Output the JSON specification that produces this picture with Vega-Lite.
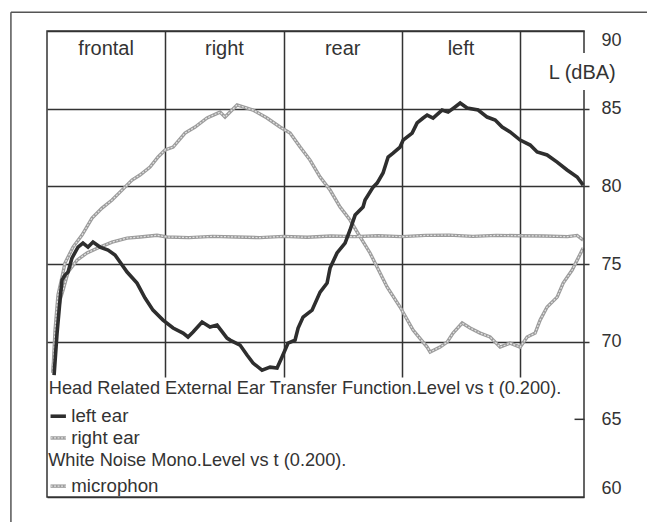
{
  "$schema": "https://vega.github.io/schema/vega-lite/v6.json",
  "width": 537,
  "height": 466,
  "autosize": {"type": "none"},
  "padding": {"left": 47, "top": 31, "right": 63, "bottom": 25},
  "background": "#ffffff",
  "config": {
    "view": {"stroke": null},
    "font": "Liberation Sans",
    "text": {"font": "Liberation Sans", "fontSize": 18.5, "color": "#333333"}
  },
  "datasets": {
    "curves": [
      {"s": "left ear", "t": 0.06, "L": 67.85}, {"s": "left ear", "t": 0.085, "L": 70.55}, {"s": "left ear", "t": 0.11, "L": 72.68},
      {"s": "left ear", "t": 0.127, "L": 73.97}, {"s": "left ear", "t": 0.152, "L": 74.29}, {"s": "left ear", "t": 0.178, "L": 74.48},
      {"s": "left ear", "t": 0.211, "L": 75.38}, {"s": "left ear", "t": 0.262, "L": 76.09}, {"s": "left ear", "t": 0.304, "L": 76.35},
      {"s": "left ear", "t": 0.347, "L": 76.09}, {"s": "left ear", "t": 0.389, "L": 76.41}, {"s": "left ear", "t": 0.448, "L": 76.09},
      {"s": "left ear", "t": 0.516, "L": 75.9}, {"s": "left ear", "t": 0.575, "L": 75.58}, {"s": "left ear", "t": 0.617, "L": 75.13},
      {"s": "left ear", "t": 0.677, "L": 74.48}, {"s": "left ear", "t": 0.761, "L": 73.77}, {"s": "left ear", "t": 0.829, "L": 72.81},
      {"s": "left ear", "t": 0.896, "L": 72.03}, {"s": "left ear", "t": 0.981, "L": 71.39}, {"s": "left ear", "t": 1.066, "L": 70.88},
      {"s": "left ear", "t": 1.15, "L": 70.55}, {"s": "left ear", "t": 1.192, "L": 70.3}, {"s": "left ear", "t": 1.235, "L": 70.62},
      {"s": "left ear", "t": 1.311, "L": 71.26}, {"s": "left ear", "t": 1.378, "L": 70.94}, {"s": "left ear", "t": 1.438, "L": 71.07},
      {"s": "left ear", "t": 1.522, "L": 70.23}, {"s": "left ear", "t": 1.548, "L": 70.1}, {"s": "left ear", "t": 1.632, "L": 69.78},
      {"s": "left ear", "t": 1.691, "L": 69.14}, {"s": "left ear", "t": 1.742, "L": 68.62}, {"s": "left ear", "t": 1.818, "L": 68.17},
      {"s": "left ear", "t": 1.886, "L": 68.36}, {"s": "left ear", "t": 1.945, "L": 68.3}, {"s": "left ear", "t": 1.987, "L": 69.01},
      {"s": "left ear", "t": 2.038, "L": 69.91}, {"s": "left ear", "t": 2.097, "L": 70.1}, {"s": "left ear", "t": 2.123, "L": 70.88},
      {"s": "left ear", "t": 2.165, "L": 71.58}, {"s": "left ear", "t": 2.241, "L": 72.03}, {"s": "left ear", "t": 2.309, "L": 73.19},
      {"s": "left ear", "t": 2.368, "L": 73.77}, {"s": "left ear", "t": 2.393, "L": 74.74}, {"s": "left ear", "t": 2.452, "L": 75.71},
      {"s": "left ear", "t": 2.52, "L": 76.35}, {"s": "left ear", "t": 2.562, "L": 77.19}, {"s": "left ear", "t": 2.605, "L": 78.15},
      {"s": "left ear", "t": 2.672, "L": 78.67}, {"s": "left ear", "t": 2.689, "L": 79.12}, {"s": "left ear", "t": 2.757, "L": 79.95},
      {"s": "left ear", "t": 2.791, "L": 80.21}, {"s": "left ear", "t": 2.841, "L": 80.86}, {"s": "left ear", "t": 2.884, "L": 81.89},
      {"s": "left ear", "t": 2.926, "L": 82.14}, {"s": "left ear", "t": 2.985, "L": 82.53}, {"s": "left ear", "t": 3.011, "L": 82.98},
      {"s": "left ear", "t": 3.087, "L": 83.43}, {"s": "left ear", "t": 3.129, "L": 84.08}, {"s": "left ear", "t": 3.18, "L": 84.4},
      {"s": "left ear", "t": 3.214, "L": 84.59}, {"s": "left ear", "t": 3.264, "L": 84.4}, {"s": "left ear", "t": 3.34, "L": 84.91},
      {"s": "left ear", "t": 3.391, "L": 84.78}, {"s": "left ear", "t": 3.45, "L": 85.11}, {"s": "left ear", "t": 3.493, "L": 85.36},
      {"s": "left ear", "t": 3.552, "L": 85.04}, {"s": "left ear", "t": 3.645, "L": 84.91}, {"s": "left ear", "t": 3.721, "L": 84.46},
      {"s": "left ear", "t": 3.789, "L": 84.27}, {"s": "left ear", "t": 3.848, "L": 83.82}, {"s": "left ear", "t": 3.915, "L": 83.5},
      {"s": "left ear", "t": 4.0, "L": 82.98}, {"s": "left ear", "t": 4.085, "L": 82.66}, {"s": "left ear", "t": 4.144, "L": 82.21},
      {"s": "left ear", "t": 4.228, "L": 82.02}, {"s": "left ear", "t": 4.313, "L": 81.56}, {"s": "left ear", "t": 4.397, "L": 81.05},
      {"s": "left ear", "t": 4.482, "L": 80.6}, {"s": "left ear", "t": 4.533, "L": 80.08},

      {"s": "right ear", "t": 0.05, "L": 68.0}, {"s": "right ear", "t": 0.068, "L": 70.75}, {"s": "right ear", "t": 0.093, "L": 73.0},
      {"s": "right ear", "t": 0.127, "L": 74.16}, {"s": "right ear", "t": 0.152, "L": 75.06}, {"s": "right ear", "t": 0.22, "L": 76.09},
      {"s": "right ear", "t": 0.296, "L": 76.86}, {"s": "right ear", "t": 0.381, "L": 77.96}, {"s": "right ear", "t": 0.465, "L": 78.6},
      {"s": "right ear", "t": 0.55, "L": 79.12}, {"s": "right ear", "t": 0.617, "L": 79.63}, {"s": "right ear", "t": 0.719, "L": 80.41},
      {"s": "right ear", "t": 0.786, "L": 80.73}, {"s": "right ear", "t": 0.871, "L": 81.24}, {"s": "right ear", "t": 0.939, "L": 81.89},
      {"s": "right ear", "t": 0.998, "L": 82.34}, {"s": "right ear", "t": 1.066, "L": 82.53}, {"s": "right ear", "t": 1.167, "L": 83.43},
      {"s": "right ear", "t": 1.252, "L": 83.82}, {"s": "right ear", "t": 1.353, "L": 84.4}, {"s": "right ear", "t": 1.463, "L": 84.78},
      {"s": "right ear", "t": 1.505, "L": 84.46}, {"s": "right ear", "t": 1.607, "L": 85.24}, {"s": "right ear", "t": 1.742, "L": 84.91},
      {"s": "right ear", "t": 1.86, "L": 84.4}, {"s": "right ear", "t": 1.97, "L": 83.82}, {"s": "right ear", "t": 2.055, "L": 83.43},
      {"s": "right ear", "t": 2.14, "L": 82.53}, {"s": "right ear", "t": 2.224, "L": 81.69}, {"s": "right ear", "t": 2.309, "L": 80.6},
      {"s": "right ear", "t": 2.393, "L": 79.76}, {"s": "right ear", "t": 2.478, "L": 78.67}, {"s": "right ear", "t": 2.562, "L": 77.83},
      {"s": "right ear", "t": 2.647, "L": 76.74}, {"s": "right ear", "t": 2.731, "L": 75.71}, {"s": "right ear", "t": 2.875, "L": 73.52},
      {"s": "right ear", "t": 2.985, "L": 72.23}, {"s": "right ear", "t": 3.095, "L": 70.75}, {"s": "right ear", "t": 3.214, "L": 69.65},
      {"s": "right ear", "t": 3.239, "L": 69.33}, {"s": "right ear", "t": 3.323, "L": 69.65}, {"s": "right ear", "t": 3.383, "L": 69.97},
      {"s": "right ear", "t": 3.433, "L": 70.55}, {"s": "right ear", "t": 3.51, "L": 71.2}, {"s": "right ear", "t": 3.577, "L": 70.88},
      {"s": "right ear", "t": 3.662, "L": 70.55}, {"s": "right ear", "t": 3.746, "L": 70.3}, {"s": "right ear", "t": 3.831, "L": 69.65},
      {"s": "right ear", "t": 3.915, "L": 69.91}, {"s": "right ear", "t": 4.0, "L": 69.65}, {"s": "right ear", "t": 4.059, "L": 70.3},
      {"s": "right ear", "t": 4.127, "L": 70.55}, {"s": "right ear", "t": 4.169, "L": 71.39}, {"s": "right ear", "t": 4.228, "L": 72.23},
      {"s": "right ear", "t": 4.313, "L": 72.87}, {"s": "right ear", "t": 4.364, "L": 73.77}, {"s": "right ear", "t": 4.44, "L": 74.61},
      {"s": "right ear", "t": 4.482, "L": 75.25}, {"s": "right ear", "t": 4.533, "L": 76.03},

      {"s": "microphon", "t": 0.05, "L": 68.0}, {"s": "microphon", "t": 0.085, "L": 71.4}, {"s": "microphon", "t": 0.11, "L": 72.7},
      {"s": "microphon", "t": 0.135, "L": 73.3}, {"s": "microphon", "t": 0.178, "L": 74.48}, {"s": "microphon", "t": 0.254, "L": 75.25},
      {"s": "microphon", "t": 0.338, "L": 75.71}, {"s": "microphon", "t": 0.448, "L": 76.09}, {"s": "microphon", "t": 0.55, "L": 76.41},
      {"s": "microphon", "t": 0.677, "L": 76.67}, {"s": "microphon", "t": 0.786, "L": 76.74}, {"s": "microphon", "t": 0.93, "L": 76.85},
      {"s": "microphon", "t": 1.015, "L": 76.74}, {"s": "microphon", "t": 1.2, "L": 76.7}, {"s": "microphon", "t": 1.4, "L": 76.78},
      {"s": "microphon", "t": 1.6, "L": 76.74}, {"s": "microphon", "t": 1.8, "L": 76.7}, {"s": "microphon", "t": 2.0, "L": 76.78},
      {"s": "microphon", "t": 2.2, "L": 76.72}, {"s": "microphon", "t": 2.4, "L": 76.8}, {"s": "microphon", "t": 2.6, "L": 76.76},
      {"s": "microphon", "t": 2.8, "L": 76.82}, {"s": "microphon", "t": 3.0, "L": 76.76}, {"s": "microphon", "t": 3.2, "L": 76.84},
      {"s": "microphon", "t": 3.4, "L": 76.86}, {"s": "microphon", "t": 3.6, "L": 76.78}, {"s": "microphon", "t": 3.8, "L": 76.84},
      {"s": "microphon", "t": 4.0, "L": 76.82}, {"s": "microphon", "t": 4.2, "L": 76.8}, {"s": "microphon", "t": 4.4, "L": 76.76},
      {"s": "microphon", "t": 4.482, "L": 76.84}, {"s": "microphon", "t": 4.533, "L": 76.54}
    ],
    "legendBox": [{"t": 0, "t2": 4.54, "L": 60, "L2": 67.7}],
    "frame": [{"t": 0, "t2": 4.54, "L": 60, "L2": 90}],
    "unitBox": [{"t": 4.22, "t2": 4.86, "L": 86.2, "L2": 88.58}],
    "headings": [
      {"t": 0.5, "L": 88.85, "label": "frontal"},
      {"t": 1.5, "L": 88.85, "label": "right"},
      {"t": 2.5, "L": 88.85, "label": "rear"},
      {"t": 3.5, "L": 88.85, "label": "left"},
      {"t": 4.525, "L": 87.3, "label": "L (dBA)"}
    ],
    "legendText": [
      {"t": 0.015, "L": 66.95, "label": "Head Related External Ear Transfer Function.Level vs t (0.200)."},
      {"t": 0.205, "L": 65.2, "label": "left ear"},
      {"t": 0.205, "L": 63.8, "label": "right ear"},
      {"t": 0.01, "L": 62.3, "label": "White Noise Mono.Level vs t (0.200)."},
      {"t": 0.205, "L": 60.7, "label": "microphon"}
    ],
    "swatches": [
      {"s": "left ear", "t": 0.03, "t2": 0.16, "L": 65.2},
      {"s": "right ear", "t": 0.03, "t2": 0.16, "L": 63.8},
      {"s": "microphon", "t": 0.03, "t2": 0.16, "L": 60.7}
    ],
    "innerTick": [{"t": 4.46, "t2": 4.54, "L": 65}],
    "sheetEdge": [
      {"t": -0.305, "t2": 5.2, "L": 91.2, "L2": 91.2},
      {"t": -0.305, "t2": -0.305, "L": 58, "L2": 91.2}
    ]
  },
  "encoding": {
    "x": {
      "field": "t", "type": "quantitative",
      "scale": {"domain": [0, 4.54], "nice": false, "zero": false},
      "axis": {"orient": "bottom", "values": [1, 2, 3, 4], "grid": true, "gridColor": "#333333", "gridWidth": 1.5, "gridOpacity": 1, "labels": false, "ticks": false, "domain": false, "title": null}
    },
    "y": {
      "field": "L", "type": "quantitative",
      "scale": {"domain": [60, 90], "nice": false, "zero": false},
      "axis": {
        "orient": "right", "values": [60, 65, 70, 75, 80, 85, 90], "grid": true, "gridColor": "#333333", "gridWidth": 1.5, "gridOpacity": 1,
        "domain": false, "ticks": true, "tickSize": 5, "tickWidth": 1.5,
        "tickColor": {"condition": {"test": "datum.value == 65 || datum.value == 60 || datum.value == 90", "value": "transparent"}, "value": "#333333"},
        "labelFont": "Liberation Sans", "labelFontSize": 18, "labelColor": "#333333", "labelPadding": 12, "labelFlush": true, "title": null
      }
    }
  },
  "layer": [
    {
      "data": {"name": "curves"},
      "transform": [{"filter": "datum.s != 'left ear'"}],
      "mark": {"type": "line", "color": "#9c9c9c", "strokeWidth": 3.4},
      "encoding": {"detail": {"field": "s"}}
    },
    {
      "data": {"name": "curves"},
      "transform": [{"filter": "datum.s != 'left ear'"}],
      "mark": {"type": "line", "color": "#e2e2e2", "strokeWidth": 1.2, "strokeDash": [2, 1.5]},
      "encoding": {"detail": {"field": "s"}}
    },
    {
      "data": {"name": "curves"},
      "transform": [{"filter": "datum.s == 'left ear'"}],
      "mark": {"type": "line", "color": "#2e2e2e", "strokeWidth": 3.6}
    },
    {
      "data": {"name": "legendBox"},
      "mark": {"type": "rect", "fill": "#ffffff"},
      "encoding": {"x2": {"field": "t2"}, "y2": {"field": "L2"}}
    },
    {
      "data": {"name": "frame"},
      "mark": {"type": "rect", "fill": "#ffffff", "fillOpacity": 0, "stroke": "#333333", "strokeWidth": 1.5},
      "encoding": {"x2": {"field": "t2"}, "y2": {"field": "L2"}}
    },
    {
      "data": {"name": "unitBox"},
      "mark": {"type": "rect", "fill": "#ffffff"},
      "encoding": {"x2": {"field": "t2"}, "y2": {"field": "L2"}}
    },
    {
      "data": {"name": "headings"},
      "mark": {"type": "text", "align": "center", "baseline": "middle", "fontSize": 20},
      "encoding": {"text": {"field": "label"}}
    },
    {
      "data": {"name": "legendText"},
      "transform": [{"filter": "datum.t < 0.02"}],
      "mark": {"type": "text", "align": "left", "baseline": "middle", "fontSize": 18.2},
      "encoding": {"text": {"field": "label"}}
    },
    {
      "data": {"name": "legendText"},
      "transform": [{"filter": "datum.t >= 0.02"}],
      "mark": {"type": "text", "align": "left", "baseline": "middle", "fontSize": 18.7},
      "encoding": {"text": {"field": "label"}}
    },
    {
      "data": {"name": "swatches"},
      "transform": [{"filter": "datum.s == 'left ear'"}],
      "mark": {"type": "rule", "color": "#2e2e2e", "strokeWidth": 3.6},
      "encoding": {"x2": {"field": "t2"}}
    },
    {
      "data": {"name": "swatches"},
      "transform": [{"filter": "datum.s != 'left ear'"}],
      "mark": {"type": "rule", "color": "#9c9c9c", "strokeWidth": 3.4},
      "encoding": {"x2": {"field": "t2"}}
    },
    {
      "data": {"name": "swatches"},
      "transform": [{"filter": "datum.s != 'left ear'"}],
      "mark": {"type": "rule", "color": "#e2e2e2", "strokeWidth": 1.2, "strokeDash": [2, 1.5]},
      "encoding": {"x2": {"field": "t2"}}
    },
    {
      "data": {"name": "innerTick"},
      "mark": {"type": "rule", "color": "#333333", "strokeWidth": 1.5},
      "encoding": {"x2": {"field": "t2"}}
    },
    {
      "data": {"name": "sheetEdge"},
      "mark": {"type": "rule", "color": "#555555", "strokeWidth": 1.5},
      "encoding": {"x2": {"field": "t2"}, "y2": {"field": "L2"}}
    }
  ]
}
